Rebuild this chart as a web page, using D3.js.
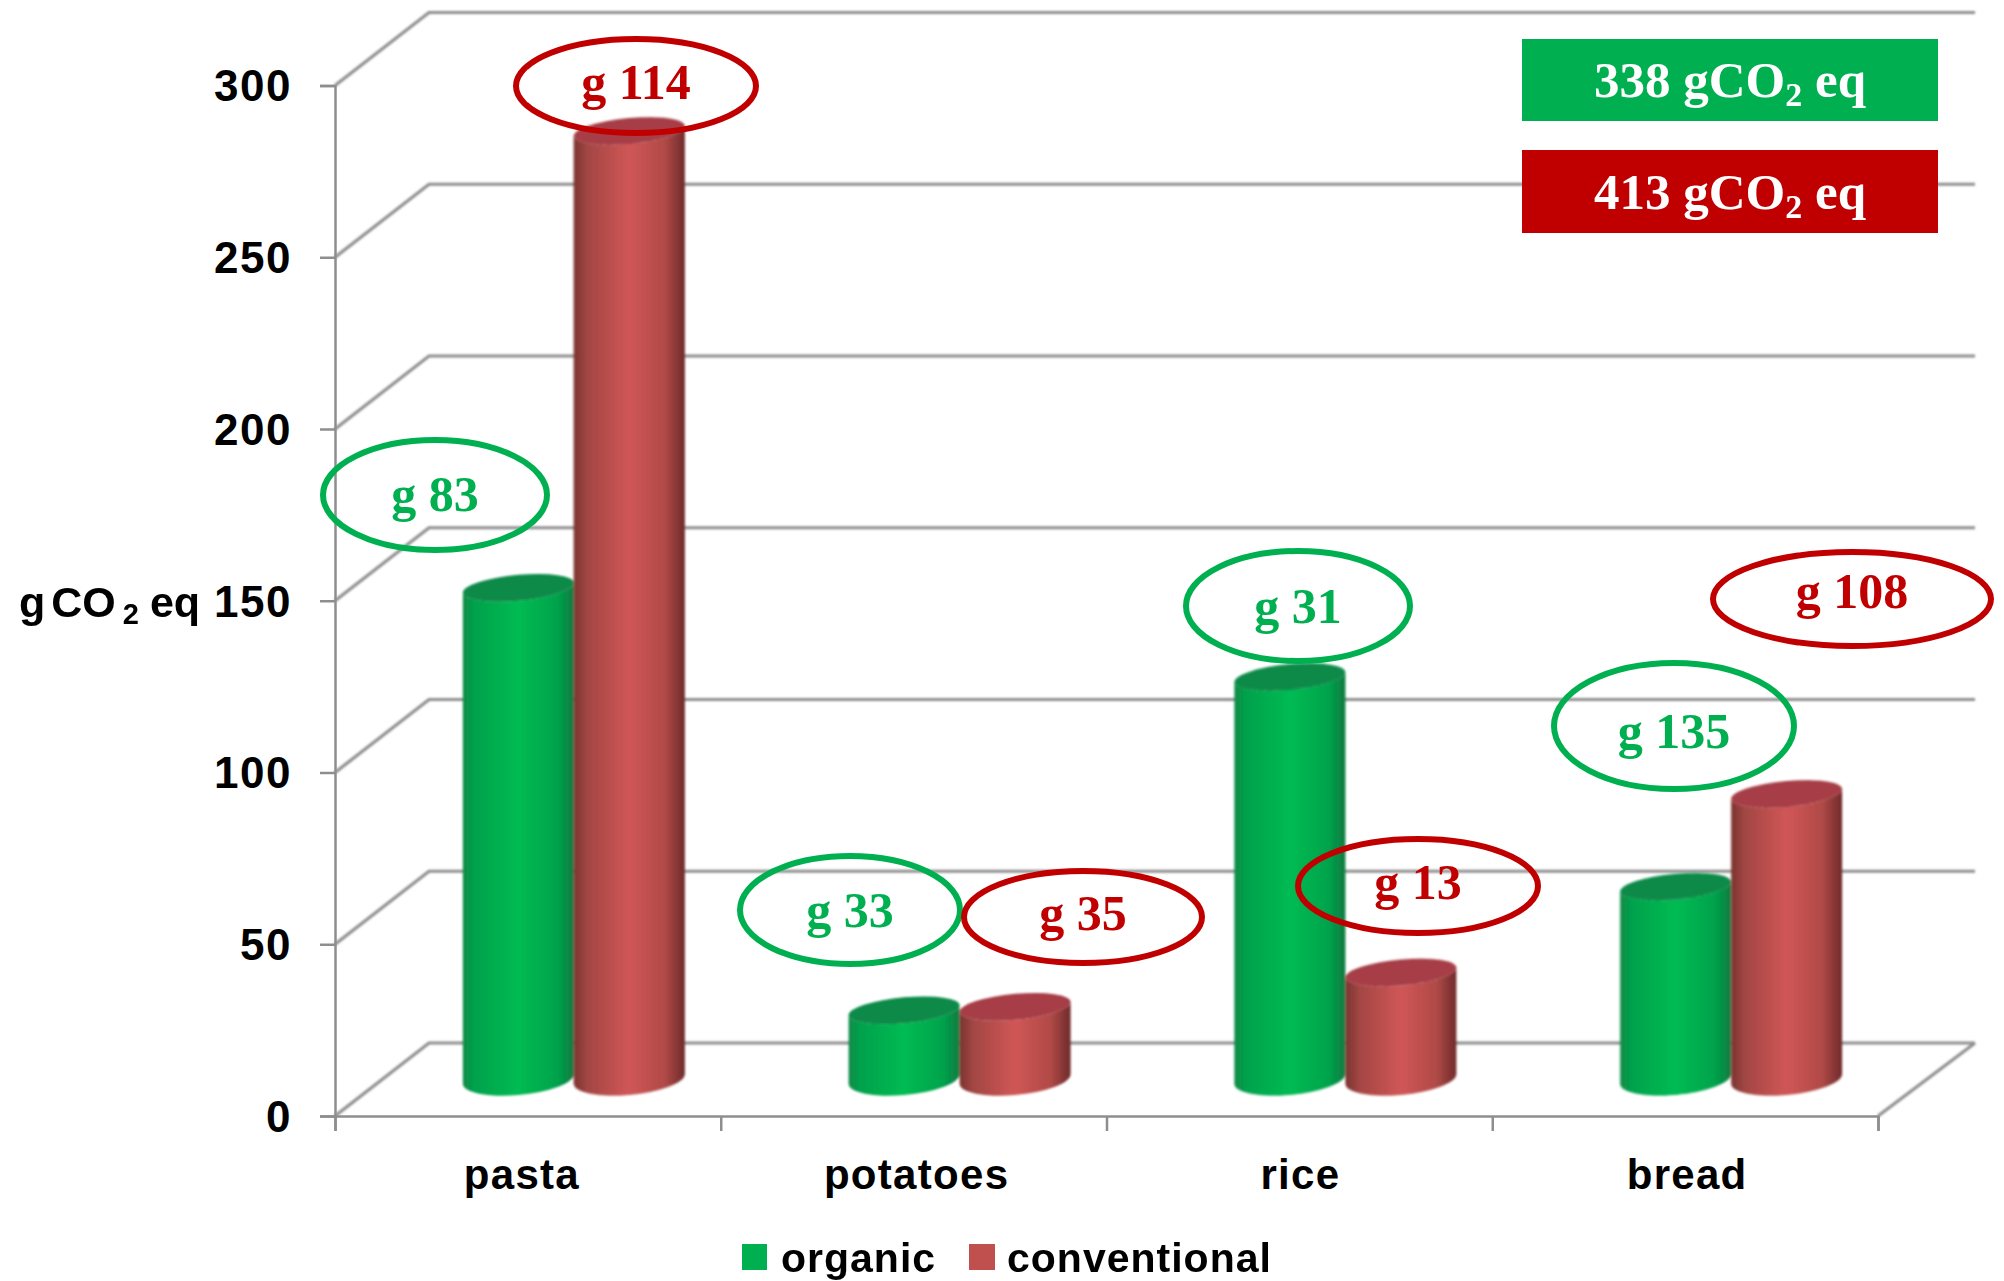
<!DOCTYPE html>
<html><head><meta charset="utf-8">
<script src="https://cdnjs.cloudflare.com/ajax/libs/d3/7.8.5/d3.min.js"></script>
<style>html,body{margin:0;background:#fff}svg{display:block}</style></head>
<body><svg id="c" width="2004" height="1281"></svg>
<script>
const categories = ["pasta","potatoes","rice","bread"];
const seriesNames = ["organic","conventional"];
const organicValues = [143,20,117,56];
const conventionalValues = [276,21,31,83];
const yTicks = [0,50,100,150,200,250,300];
const organicCallouts = ["g 83","g 33","g 31","g 135"];
const conventionalCallouts = ["g 114","g 35","g 13","g 108"];
const totalLabels = ["338","413"];
const GREEN="#00b050", RED="#c00000", LEGEND_RED="#c0504d", GRID="#8e8e8e";
const FRAME={left:335,right:1878,top:85.5,bottom:1116,dx:94,dy:-73,backRight:1975};
// callout placement [cx,cy,rx,ry,text baseline offset], same order as the label lists
const organicBoxes=[[435,495,112,55,16],[850,910,110,54,17],[1298,606,112,55,17],[1674,726,120,63,22]];
const conventionalBoxes=[[636,86,120,47,13],[1083,917,119,46,13],[1418,886,120,47,13],[1852,599,139,47,9]];
const labelShift=[-6,3,1,2];

const svg=d3.select("#c");
const defs=svg.append("defs");
defs.append("filter").attr("id","soft").append("feGaussianBlur").attr("stdDeviation",0.8);
function grad(id,stops){
  const g=defs.append("linearGradient").attr("id",id).attr("x1",0).attr("x2",1).attr("y1",0).attr("y2",0);
  stops.forEach(([o,c])=>g.append("stop").attr("offset",o).attr("stop-color",c));
}
grad("gGreen",[[0,"#0a8a45"],[.1,"#04a14c"],[.5,"#00bb52"],[.85,"#02a34c"],[1,"#0b7a40"]]);
grad("gRed",[[0,"#7a3330"],[.12,"#a24643"],[.5,"#d05656"],[.82,"#b04a47"],[1,"#6f2a2b"]]);

const y=d3.scaleLinear().domain([0,300]).range([FRAME.bottom,FRAME.top]);
const x=d3.scaleBand().domain(categories).range([FRAME.left,FRAME.right]);
const barW=111;
const series=d3.scaleBand().domain(seriesNames).range([-barW,barW]);

// frame
const frame=svg.append("g").attr("filter","url(#soft)").attr("fill","none").attr("stroke",GRID).attr("stroke-width",3.2);
yTicks.forEach(t=>{
  const yy=y(t);
  frame.append("path").attr("d",d3.line()([[FRAME.left,yy],[FRAME.left+FRAME.dx,yy+FRAME.dy],[FRAME.backRight,yy+FRAME.dy]]));
});
frame.append("path").attr("d",d3.line()([[FRAME.right,y(0)],[FRAME.backRight,y(0)+FRAME.dy]]));

// axes
const yAxis=svg.append("g").attr("transform",`translate(${FRAME.left},0)`)
  .call(d3.axisLeft(y).tickValues(yTicks).tickSize(15).tickPadding(28));
yAxis.selectAll("path,line").attr("stroke",GRID).attr("stroke-width",2.5);
yAxis.selectAll("text").attr("font-family","Liberation Sans").attr("font-weight","bold")
  .attr("font-size",44).attr("letter-spacing",1.5).attr("fill","#000").attr("dy","0.35em");

const xAxis=svg.append("g").attr("transform",`translate(0,${FRAME.bottom})`)
  .call(d3.axisBottom(d3.scaleLinear().domain([0,4]).range([FRAME.left,FRAME.right])).ticks(4).tickSize(15).tickFormat(""));
xAxis.selectAll("path,line").attr("stroke",GRID).attr("stroke-width",2.5);

svg.append("g").selectAll("text").data(categories).join("text")
  .attr("x",(d,i)=>x(d)+x.bandwidth()/2+labelShift[i]).attr("y",1189).attr("text-anchor","middle")
  .attr("font-family","Liberation Sans").attr("font-weight","bold").attr("font-size",42).attr("letter-spacing",1.3)
  .text(d=>d);

// cylinders: drawn from the value scale, base sits mid-depth of the floor
const depthShift=-37, r=barW/2, ry=13, tan=Math.tan(-5*Math.PI/180), barOffset=46;
function cylinder(g,cat,name,val,bodyFill,capFill){
  const cx=x(cat)+x.bandwidth()/2+barOffset+series(name)+barW/2;
  const top=y(val)+depthShift, base=y(0)+depthShift;
  const cyl=g.append("g").attr("transform",`translate(${cx},0) matrix(1,${tan},0,1,0,0)`);
  cyl.append("path").attr("fill",bodyFill)
    .attr("d",`M${-r},${top}L${-r},${base}A${r},${ry+3} 0 0 0 ${r},${base}L${r},${top}A${r},${ry} 0 0 1 ${-r},${top}Z`);
  cyl.append("ellipse").attr("cx",0).attr("cy",top).attr("rx",r).attr("ry",ry).attr("fill",capFill);
}
const bars=svg.append("g").attr("filter","url(#soft)");
categories.forEach((c,i)=>{
  cylinder(bars,c,"organic",organicValues[i],"url(#gGreen)","#078a47");
  cylinder(bars,c,"conventional",conventionalValues[i],"url(#gRed)","#a63e46");
});

// callouts
function callouts(labels,boxes,color){
  const g=svg.append("g");
  labels.forEach((t,i)=>{
    const [cx,cy,rx,ry2,off]=boxes[i];
    g.append("ellipse").attr("cx",cx).attr("cy",cy).attr("rx",rx).attr("ry",ry2)
      .attr("fill","none").attr("stroke",color).attr("stroke-width",6);
    g.append("text").attr("x",cx).attr("y",cy+off).attr("text-anchor","middle")
      .attr("font-family","Liberation Serif").attr("font-weight","bold").attr("font-size",50)
      .attr("fill",color).text(t);
  });
}
callouts(organicCallouts,organicBoxes,GREEN);
callouts(conventionalCallouts,conventionalBoxes,RED);

// total boxes
[[GREEN,39,82,97],[RED,150,83,209]].forEach(([c,top,h,base],i)=>{
  svg.append("rect").attr("x",1522).attr("y",top).attr("width",416).attr("height",h).attr("fill",c);
  const t=svg.append("text").attr("x",1730).attr("y",base).attr("text-anchor","middle")
    .attr("font-family","Liberation Serif").attr("font-weight","bold").attr("font-size",51).attr("fill","#fff");
  t.append("tspan").text(totalLabels[i]+" gCO");
  t.append("tspan").attr("font-size",34).attr("dy",9).text("2");
  t.append("tspan").attr("dy",-9).text(" eq");
});

// y title
const yt=svg.append("text").attr("x",19).attr("y",617)
  .attr("font-family","Liberation Sans").attr("font-weight","bold").attr("font-size",43);
yt.append("tspan").text("g");
yt.append("tspan").attr("dx",6).text("CO");
yt.append("tspan").attr("dx",7).attr("dy",7).attr("font-size",29).text("2");
yt.append("tspan").attr("dx",11).attr("dy",-7).text("eq");

// legend
[[GREEN,742,25,781],[LEGEND_RED,969,26,1007]].forEach(([c,sx,sw,tx],i)=>{
  svg.append("rect").attr("x",sx).attr("y",1244).attr("width",sw).attr("height",26).attr("fill",c);
  svg.append("text").attr("x",tx).attr("y",1272).attr("font-family","Liberation Sans")
    .attr("font-weight","bold").attr("font-size",41).attr("letter-spacing",1).text(seriesNames[i]);
});
</script></body></html>
